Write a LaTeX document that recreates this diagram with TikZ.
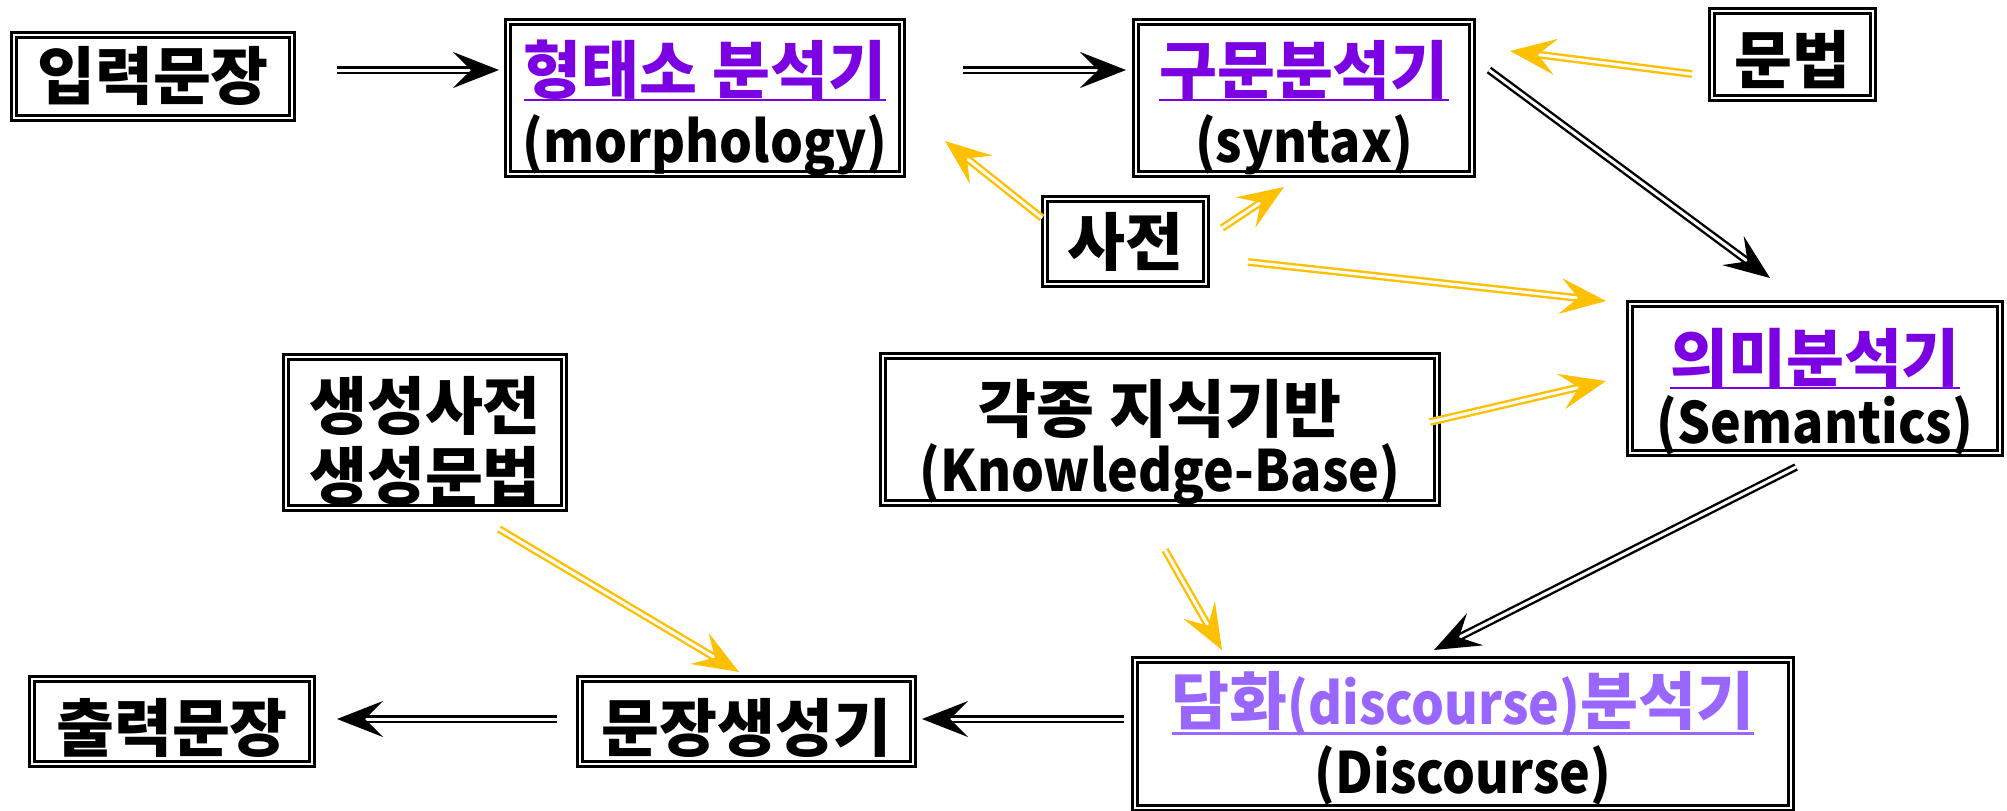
\documentclass[tikz,border=0pt]{standalone}
\usepackage{graphicx}
\usepackage{fontspec}
\setmainfont{Noto Sans CJK KR}
\usetikzlibrary{arrows.meta,calc}

\definecolor{gold}{HTML}{FFC000}
\definecolor{linkpurple}{HTML}{7B00E2}
\definecolor{softpurple}{HTML}{9966FF}

% type sizes: Hangul runs, and narrow tall Latin runs
\newcommand\hg{\fontsize{31.5}{34}\selectfont}
\newcommand\lt[1]{\scalebox{0.91}[1]{\fontsize{28.5}{30}\selectfont #1}}

% underlined link-style text in the current colour; #1 = drop of the rule
\newcommand\linktext[2][4.2pt]{\setbox0=\hbox{#2}\leavevmode\rlap{\raisebox{-#1}{\rule{\wd0}{1.4pt}}}\box0}

\tikzset{
  box/.style={draw=black, double=white, line width=1.3pt, double distance=1.2pt,
    fill=white, inner sep=0pt},
  txt/.style={anchor=base, inner sep=0pt, font=\bfseries},
  flow/.style={draw=black, double=white, line width=1.2pt, double distance=1.5pt,
    -{Stealth[length=23pt,width=18pt,inset=9pt]}},
  feed/.style={flow, draw=gold}
}

\begin{document}
\begin{tikzpicture}[x=0.5pt, y=-0.5pt]
\useasboundingbox (0,0) rectangle (2007,810);

% frames of the stages and resources
\node[box, minimum width=139pt, minimum height=41.5pt] (in) at (153,76.5) {};
\node[box, minimum width=197pt, minimum height=76pt] (morph) at (705,98) {};
\node[box, minimum width=168pt, minimum height=76pt] (syn) at (1304,98) {};
\node[box, minimum width=80.5pt, minimum height=43.5pt] (gram) at (1792.5,54.5) {};
\node[box, minimum width=80.5pt, minimum height=42.5pt] (dict) at (1125.5,241.5) {};
\node[box, minimum width=185pt, minimum height=74.5pt] (sem) at (1815,378.5) {};
\node[box, minimum width=139pt, minimum height=75.5pt] (gen) at (425,432.5) {};
\node[box, minimum width=277pt, minimum height=73.5pt] (kb) at (1160,429.5) {};
\node[box, minimum width=140pt, minimum height=42.5pt] (out) at (172,721.5) {};
\node[box, minimum width=166.5pt, minimum height=42.5pt] (sg) at (746.5,721.5) {};
\node[box, minimum width=328pt, minimum height=74pt] (disc) at (1463,734) {};

% their labels, placed on baselines
\node[txt] (in-a) at (in |- 0,99) {\hg 입력문장};
\node[txt, text=linkpurple] (morph-a) at (morph |- 0,93) {\hg\linktext{형태소 분석기}};
\node[txt] (morph-b) at (morph |- 0,162.6) {\lt{(morphology)}};
\node[txt, text=linkpurple] (syn-a) at (syn |- 0,93) {\hg\linktext{구문분석기}};
\node[txt] (syn-b) at (syn |- 0,162.6) {\lt{(syntax)}};
\node[txt] (gram-a) at (gram |- 0,83) {\hg 문법};
\node[txt] (dict-a) at (dict |- 0,265) {\hg 사전};
\node[txt, text=linkpurple] (sem-a) at (sem |- 0,381) {\hg\linktext{의미분석기}};
\node[txt] (sem-b) at (sem |- 0,443) {\lt{(Semantics)}};
\node[txt] (gen-a) at (gen |- 0,429) {\hg 생성사전};
\node[txt] (gen-b) at (gen |- 0,499) {\hg 생성문법};
\node[txt] (kb-a) at (kb |- 0,432) {\hg 각종 지식기반};
\node[txt] (kb-b) at (kb |- 0,491.5) {\lt{(Knowledge-Base)}};
\node[txt] (out-a) at (out |- 0,751) {\hg 출력문장};
\node[txt] (sg-a) at (sg |- 0,751) {\hg 문장생성기};
\node[txt, text=softpurple] (disc-a) at (disc |- 0,724) {\linktext[5.6pt]{\hg 담화\lt{(discourse)}\hg 분석기}};
\node[txt] (disc-b) at (disc |- 0,793) {\lt{(Discourse)}};

% main pipeline
\draw[flow] ($(in)+(184,-6.5)$) -- ($(morph)+(-206,-28)$);
\draw[flow] ($(morph)+(258,-28)$) -- ($(syn)+(-178,-28)$);
\draw[flow] ($(syn)+(185,-28)$) -- ($(sem)+(-45,-100.5)$);
\draw[flow] ($(sem)+(-19,88.5)$) -- ($(disc)+(-29,-84)$);
\draw[flow] ($(disc)+(-339,-15)$) -- ($(sg)+(175.5,-2.5)$);
\draw[flow] ($(sg)+(-189.5,-2.5)$) -- ($(out)+(165,-2.5)$);

% knowledge sources
\draw[feed] ($(gram)+(-100.5,19.5)$) -- ($(syn)+(206,-47)$);
\draw[feed] ($(dict)+(-83.5,-23.5)$) -- ($(morph)+(240,43)$);
\draw[feed] ($(dict)+(96.5,-13.5)$) -- ($(syn)+(-20,89)$);
\draw[feed] ($(dict)+(122.5,20.5)$) -- ($(sem)+(-209,-77.5)$);
\draw[feed] ($(kb)+(270,-7.5)$) -- ($(sem)+(-209,2.5)$);
\draw[feed] ($(kb)+(5,120.5)$) -- ($(disc)+(-241,-84)$);
\draw[feed] ($(gen)+(74,96.5)$) -- ($(sg)+(-7.5,-49.5)$);
\end{tikzpicture}
\end{document}
